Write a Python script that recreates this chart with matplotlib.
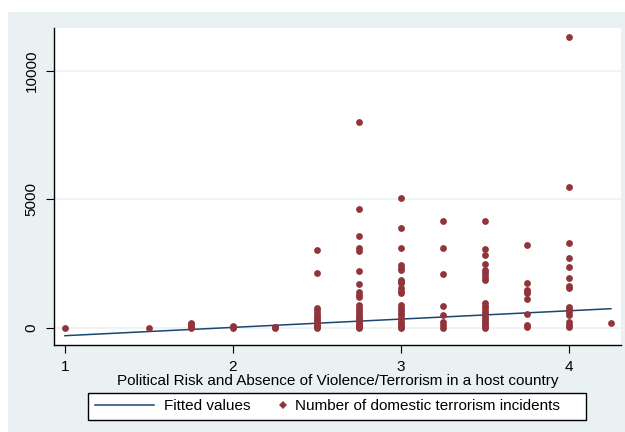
import matplotlib
matplotlib.use("Agg")
import matplotlib.pyplot as plt
from matplotlib.patches import Rectangle
from matplotlib.lines import Line2D
from matplotlib.legend_handler import HandlerLine2D

plt.rcParams["font.family"] = ["Liberation Sans", "DejaVu Sans"]

# incidents per host-country risk score
risk_levels = [1, 1.5, 1.75, 2, 2.25, 2.5, 2.75, 3, 3.25, 3.5, 3.75, 4, 4.25]
incidents = [
    [0],
    [0],
    [0, 40, 90, 150, 200],
    [0, 30, 60],
    [0, 20, 40],
    [3030, 2120, 780, 680, 580, 480, 400, 320, 250, 180, 120, 60, 20, 0],
    [8000, 4620, 3570, 3100, 3000, 2210, 1700, 1380, 1290, 1200, 880, 780,
     680, 590, 500, 420, 330, 260, 200, 130, 70, 20, 0],
    [5040, 3870, 3110, 2440, 2340, 2250, 1860, 1790, 1730, 1530, 1440, 1340,
     880, 780, 690, 590, 500, 370, 280, 190, 110, 40, 0],
    [4150, 3110, 2080, 840, 510, 230, 120, 0],
    [4150, 3050, 2830, 2470, 2250, 2150, 2050, 1950, 1860, 950, 850, 750,
     650, 560, 470, 380, 300, 220, 140, 70, 0],
    [3210, 1750, 1470, 1400, 1340, 1130, 520, 100, 20],
    [11310, 5490, 3280, 2700, 2360, 1950, 1620, 1530, 820, 720, 620, 490,
     230, 120, 20],
    [170],
]

# fitted line end points
fit_x = [1, 4.25]
fit_y = [-311, 739]

x_ticks = [1, 2, 3, 4]
y_ticks = [0, 5000, 10000]

NAVY = "#1a476f"
MAROON = "#90353b"
PANEL = "#e9f1f3"
FS = 11

W, H = 625, 432
fig = plt.figure(figsize=(W / 100, H / 100), dpi=100, facecolor="white")

# stata style graph region
fig.add_artist(Rectangle((8 / W, 0), 1 - 8 / W, 1 - 12 / H, transform=fig.transFigure,
                         facecolor=PANEL, edgecolor="none", zorder=-10))

ax = fig.add_axes([54 / W, 1 - 345 / H, (621 - 54) / W, (345 - 28) / H])
ax.set_facecolor("white")

xs, ys = [], []
for r, vals in zip(risk_levels, incidents):
    xs += [r] * len(vals)
    ys += vals

ax.plot(fit_x, fit_y, color=NAVY, lw=1.1, zorder=3)
ax.scatter(xs, ys, s=24, color=MAROON, marker="o", linewidths=0, zorder=4)

ax.set_xlim(0.935, 4.31)
ax.set_ylim(-673, 11660)
ax.set_xticks(x_ticks)
ax.set_yticks(y_ticks)
ax.set_yticklabels([str(v) for v in y_ticks], rotation=90, va="center")
ax.grid(axis="y", color=PANEL, lw=1.1, zorder=0)
ax.set_axisbelow(True)

for s in ["top", "right"]:
    ax.spines[s].set_visible(False)
for s in ["left", "bottom"]:
    ax.spines[s].set_linewidth(1.0)
    ax.spines[s].set_color("black")
ax.tick_params(length=6, width=0.8, labelsize=FS, pad=5)

ax.set_xlabel("Political Risk and Absence of Violence/Terrorism in a host country",
              fontsize=FS, labelpad=0)


class NarrowHandle(HandlerLine2D):
    # marker key of the stata legend is much narrower than the line key
    def legend_artist(self, legend, orig_handle, fontsize, handlebox):
        handlebox.width = 0.26 * fontsize
        return super().legend_artist(legend, orig_handle, fontsize, handlebox)


fit_key = Line2D([], [], color=NAVY, lw=1.1)
pt_key = Line2D([], [], color=MAROON, marker="D", ms=3.8, ls="none", mew=0)

fig.add_artist(Rectangle((88 / W, 1 - 420 / H), (586 - 88) / W, 27 / H,
                         transform=fig.transFigure, facecolor="white",
                         edgecolor="black", lw=1.0))
fig.legend([fit_key, pt_key],
           ["Fitted values", "Number of domestic terrorism incidents"],
           handler_map={pt_key: NarrowHandle()},
           loc="center left", bbox_to_anchor=(95 / W, 1 - 406.5 / H),
           ncol=2, frameon=False, fontsize=FS, borderpad=0, borderaxespad=0,
           handlelength=3.86, handletextpad=0.65, columnspacing=2.0)

fig.savefig("out.png", dpi=100)
